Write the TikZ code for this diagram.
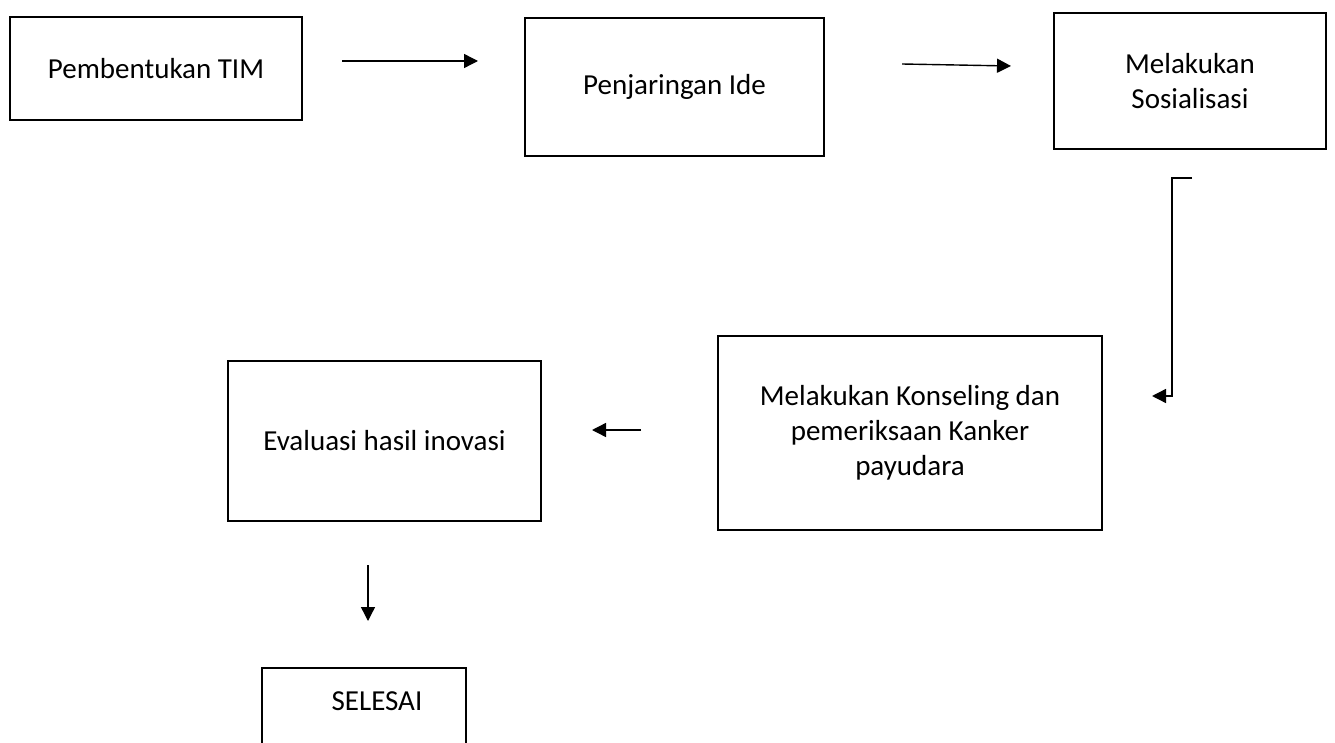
\documentclass[tikz,border=0pt]{standalone}
\usepackage{fontspec}
\setmainfont{Carlito}
\usetikzlibrary{arrows.meta}
\begin{document}
\begin{tikzpicture}[x=1pt,y=-1pt,
  box/.style={draw=black,line width=2.4pt,inner sep=0pt,align=center,font=\fontsize{29}{35}\selectfont},
  lbl/.style={inner sep=0pt,align=center,font=\fontsize{29}{35}\selectfont},
  conn/.style={line width=1.4pt,-{Triangle[length=14pt,width=14pt]}},
  frame/.style={line width=2.4pt}]
\useasboundingbox (0,0) rectangle (1335,743);
\fill[white] (0,0) rectangle (1335,743);
\node[box,minimum width=292pt,minimum height=103pt] (b1) at (156,68.5) {Pembentukan TIM};
\node[box,minimum width=299pt,minimum height=138pt] (b2) at (674.5,87) {Penjaringan Ide};
\node[box,minimum width=272pt,minimum height=136pt] (b3) at (1190,81) {Melakukan\\Sosialisasi};
\node[box,minimum width=384pt,minimum height=194pt] (b4) at (910,433) {Melakukan Konseling dan\\pemeriksaan Kanker\\payudara};
\node[box,minimum width=313pt,minimum height=160pt] (b5) at (384.5,441) {Evaluasi hasil inovasi};
\node[lbl] (b6) at (377,701) {SELESAI};
\draw[frame] (262,760) -- (262,668) -- (466,668) -- (466,760);
% connector end points
\coordinate (a1s) at (342,61);
\coordinate (a1e) at (478,61);
\coordinate (a2s) at (902,64);
\coordinate (a2e) at (1011,66);
\coordinate (a3s) at (1192,178);
\coordinate (a3c) at (1172,178);
\coordinate (a3e) at (1152,396);
\coordinate (a4s) at (641,430);
\coordinate (a4e) at (592,430);
\coordinate (a5s) at (368,565);
\coordinate (a5e) at (368,621);
\draw[conn] (a1s) -- (a1e);
\draw[conn] (a2s) -- (a2e);
\draw[conn] (a3s) -- (a3c) |- (a3e);
\draw[conn] (a4s) -- (a4e);
\draw[conn] (a5s) -- (a5e);
\end{tikzpicture}
\end{document}
